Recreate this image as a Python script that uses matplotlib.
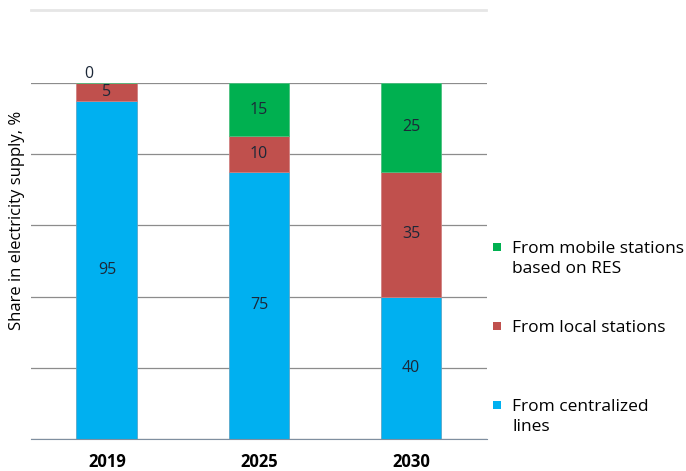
import matplotlib.pyplot as plt
import matplotlib.patches as patches
import numpy as np

years = ["2019", "2025", "2030"]
centralized = [95, 75, 40]
local = [5, 10, 35]
mobile = [0, 15, 25]
legend_labels = ["From mobile stations\nbased on RES", "From local stations", "From centralized\nlines"]

c_blue = "#00B0F0"
c_red = "#C0504D"
c_green = "#00B050"

plt.rcParams["font.family"] = ["Open Sans", "DejaVu Sans"]

fig = plt.figure(figsize=(6.86, 4.71), dpi=100)
ax = fig.add_axes([0.045, 0.068, 0.665, 0.756])

x = np.arange(len(years))
w = 0.4
cen = np.array(centralized)
loc = np.array(local)
mob = np.array(mobile)

ax.bar(x, cen, w, color=c_blue, edgecolor="#5aa7c8", linewidth=0.6, zorder=2)
ax.bar(x, loc, w, bottom=cen, color=c_red, edgecolor="#d08080", linewidth=0.6, zorder=2)
ax.bar(x, mob, w, bottom=cen + loc, color=c_green, edgecolor="#4cc07f", linewidth=0.6, zorder=2)

# value labels
lab_col = "#1c2838"
for i in range(len(years)):
    ax.text(x[i], cen[i] / 2, str(cen[i]), ha="center", va="center", fontsize=11.5, color=lab_col, zorder=3)
    ax.text(x[i], cen[i] + loc[i] / 2, str(loc[i]), ha="center", va="center", fontsize=11.5, color=lab_col, zorder=3)
    if mob[i] > 0:
        ax.text(x[i], cen[i] + loc[i] + mob[i] / 2, str(mob[i]), ha="center", va="center",
                fontsize=11.5, color=lab_col, zorder=3)
    else:
        ax.text(x[i] - 0.12, 100 + 0.3, str(mob[i]), ha="center", va="bottom", fontsize=11.5, color=lab_col, zorder=3)

ax.set_xlim(-0.5, 2.5)
ax.set_ylim(0, 100)
ax.set_yticks([0, 20, 40, 60, 80, 100])
ax.set_yticklabels([])
ax.tick_params(axis="y", length=0)
ax.grid(axis="y", color="#8c8c8c", linewidth=0.9, zorder=1)
ax.set_xticks(x)
ax.set_xticklabels(years, fontweight="bold", fontsize=12)
ax.tick_params(axis="x", length=0, pad=10)
for s in ["top", "right", "left"]:
    ax.spines[s].set_visible(False)
ax.spines["bottom"].set_color("#7f8fa0")

fig.text(0.025, 1 - 220 / 471, "Share in electricity supply, %", rotation=90, ha="center", va="center", fontsize=12)

# top light line
fig.add_artist(plt.Line2D([0.045, 0.708], [0.978, 0.978], color="#e6e6e6", linewidth=2))

# legend: square marker aligned with the first text line
W, H = 686, 471
first_line_y = [247, 326, 405]
for lbl, col, yy in zip(legend_labels, [c_green, c_red, c_blue], first_line_y):
    fig.add_artist(patches.Rectangle(((497 - 4) / W, (H - yy - 4) / H), 8 / W, 8 / H,
                                     facecolor=col, edgecolor="none", transform=fig.transFigure))
    fig.text(512 / W, (H - yy + 6) / H, lbl, ha="left", va="top", fontsize=12.5, linespacing=1.3)

fig.savefig("out.png", dpi=100)
